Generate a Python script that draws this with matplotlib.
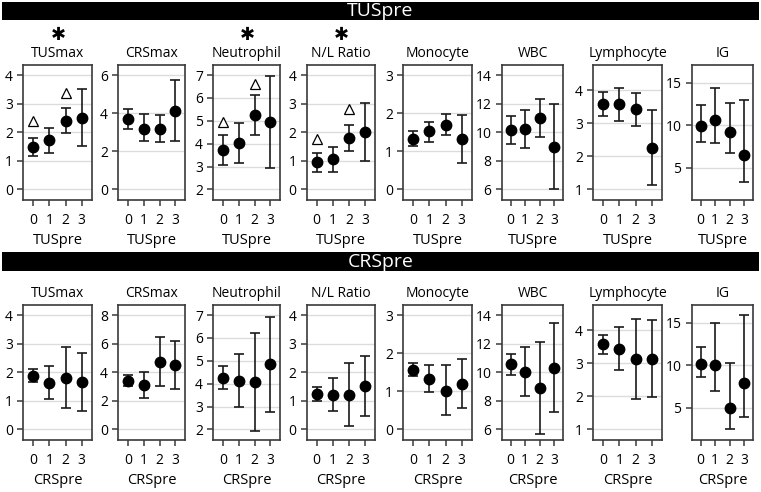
import matplotlib
matplotlib.use('Agg')
import matplotlib.pyplot as plt
from matplotlib.patches import Rectangle

plt.rcParams['font.family'] = ['Open Sans', 'DejaVu Sans']
plt.rcParams['mathtext.fontset'] = 'dejavusans'

# ---------------- data ----------------
variables = ['TUSmax', 'CRSmax', 'Neutrophil', 'N/L Ratio', 'Monocyte', 'WBC', 'Lymphocyte', 'IG']
groups = [0, 1, 2, 3]

# TUSpre rows (mean, lower CI, upper CI) for each variable
tuspre_mean = [[1.49, 1.72, 2.40, 2.51],
               [3.67, 3.19, 3.16, 4.12],
               [3.71, 4.03, 5.27, 4.95],
               [0.96, 1.05, 1.80, 2.01],
               [1.33, 1.52, 1.70, 1.31],
               [10.14, 10.26, 11.03, 8.97],
               [3.59, 3.59, 3.42, 2.26],
               [9.92, 10.63, 9.21, 6.50]]
tuspre_low = [[1.16, 1.29, 1.98, 1.51],
              [3.18, 2.53, 2.47, 2.54],
              [3.08, 3.15, 4.38, 2.95],
              [0.61, 0.61, 1.36, 0.99],
              [1.14, 1.25, 1.44, 0.70],
              [9.20, 8.92, 9.70, 6.00],
              [3.22, 3.08, 2.92, 1.14],
              [8.06, 7.96, 6.75, 3.34]]
tuspre_high = [[1.81, 2.15, 2.85, 3.50],
               [4.21, 3.95, 3.89, 5.74],
               [4.37, 4.91, 6.15, 6.97],
               [1.27, 1.49, 2.25, 3.03],
               [1.54, 1.78, 1.99, 1.94],
               [11.12, 11.57, 12.36, 11.99],
               [3.94, 4.07, 3.92, 3.39],
               [12.40, 14.45, 12.60, 12.98]]
# open triangles (post-hoc marks) in TUSpre row: variable index, group, value
tri_var = [0, 0, 2, 2, 3, 3]
tri_group = [0, 2, 0, 2, 0, 2]
tri_value = [2.39, 3.36, 4.95, 6.63, 1.77, 2.81]
# asterisk above the title
tuspre_sig = [True, False, True, True, False, False, False, False]

# CRSpre rows
crspre_mean = [[1.88, 1.63, 1.80, 1.66],
               [3.42, 3.09, 4.70, 4.54],
               [4.27, 4.12, 4.06, 4.84],
               [1.23, 1.22, 1.20, 1.53],
               [1.57, 1.32, 1.02, 1.19],
               [10.56, 10.05, 8.90, 10.33],
               [3.57, 3.43, 3.13, 3.14],
               [10.12, 10.08, 4.92, 7.91]]
crspre_low = [[1.65, 1.08, 0.76, 0.64],
              [3.02, 2.20, 3.02, 2.85],
              [3.77, 2.96, 1.93, 2.75],
              [0.98, 0.64, 0.11, 0.47],
              [1.41, 0.99, 0.39, 0.56],
              [9.81, 8.34, 5.67, 7.24],
              [3.27, 2.79, 1.93, 1.99],
              [8.62, 6.93, 2.44, 3.94]]
crspre_high = [[2.13, 2.21, 2.90, 2.69],
               [3.81, 4.05, 6.46, 6.22],
               [4.78, 5.29, 6.23, 6.93],
               [1.49, 1.79, 2.32, 2.58],
               [1.74, 1.68, 1.68, 1.84],
               [11.31, 11.75, 12.15, 13.44],
               [3.85, 4.08, 4.34, 4.32],
               [12.17, 15.00, 10.30, 15.94]]

# y tick labels per panel
tuspre_yticks = [[0, 1, 2, 3, 4], [0, 2, 4, 6], [2, 3, 4, 5, 6, 7], [0, 1, 2, 3, 4],
                 [0, 1, 2, 3], [6, 8, 10, 12, 14], [1, 2, 3, 4], [5, 10, 15]]
crspre_yticks = [[0, 1, 2, 3, 4], [0, 2, 4, 6, 8], [2, 3, 4, 5, 6, 7], [0, 1, 2, 3, 4],
                 [0, 1, 2, 3], [6, 8, 10, 12, 14], [1, 2, 3, 4], [5, 10, 15]]

# ---------------- layout ----------------
W, H = 761, 492
fig = plt.figure(figsize=(W / 100, H / 100), dpi=100)

panel_left = [23.3, 118.3, 213.3, 306.7, 403.3, 501.7, 593.3, 691.7]
panel_width = [68.4, 66.7, 66.7, 68.3, 68.4, 61.6, 68.4, 61.6]
row_top = [65.0, 305.0]
row_height = 134.5
banner_y = [(2, 20), (252, 271)]
row_names = ['TUSpre', 'CRSpre']

grid_col = '#dcdcdc'
spine_col = '#3a3a3a'


def ylim_for(ticks, var):
    if var == 'Lymphocyte':
        return (0.69, 4.76)
    if var == 'IG':
        return (1.23, 17.12)
    span = ticks[-1] - ticks[0]
    pad = span * 0.0885
    return (ticks[0] - pad, ticks[-1] + pad)


rows = [(tuspre_mean, tuspre_low, tuspre_high, tuspre_yticks),
        (crspre_mean, crspre_low, crspre_high, crspre_yticks)]

for r, (means, lows, highs, yticks) in enumerate(rows):
    # banner
    y0, y1 = banner_y[r]
    fig.patches.append(Rectangle((2 / W, 1 - y1 / H), (W - 4) / W, (y1 - y0) / H,
                                 transform=fig.transFigure, facecolor='black',
                                 edgecolor='none', zorder=0))
    fig.text(0.5, 1 - ((y0 + y1) / 2 + 0.5) / H, row_names[r], color='white',
             fontsize=14, ha='center', va='center')

    for i, var in enumerate(variables):
        ax = fig.add_axes([panel_left[i] / W, 1 - (row_top[r] + row_height) / H,
                           panel_width[i] / W, row_height / H])
        m = means[i]
        lo = lows[i]
        hi = highs[i]
        yerr = [[m[k] - lo[k] for k in range(4)], [hi[k] - m[k] for k in range(4)]]
        ax.errorbar(groups, m, yerr=yerr, fmt='o', color='black', ecolor='#1a1a1a',
                    markersize=7.5, elinewidth=1.2, capsize=3.3, capthick=1.2, zorder=3)
        if r == 0:
            for tv, tg, tval in zip(tri_var, tri_group, tri_value):
                if tv == i:
                    ax.plot([tg], [tval], marker='^', markersize=7.5,
                            markerfacecolor='white', markeredgecolor='black',
                            markeredgewidth=0.9, linestyle='none', zorder=3)
        ax.set_xlim(-0.62, 3.62)
        ax.set_ylim(*ylim_for(yticks[i], var))
        ax.set_xticks(groups)
        ax.set_yticks(yticks[i])
        ax.yaxis.grid(True, color=grid_col, linewidth=1.0)
        ax.set_axisbelow(True)
        for s in ax.spines.values():
            s.set_color(spine_col)
            s.set_linewidth(1.2)
        ax.tick_params(axis='both', length=4.5, width=1.1, color=spine_col,
                       labelsize=10, pad=3)
        ax.tick_params(axis='x', pad=5)
        ax.set_xlabel(row_names[r], fontsize=10.5, labelpad=4)
        ax.set_title(var, fontsize=10, pad=6)
        if r == 0 and tuspre_sig[i]:
            ax.annotate('$\u2731$', xy=(0.5, 1.0), xycoords='axes fraction',
                        xytext=(0, 21.5), textcoords='offset points',
                        ha='center', va='center', fontsize=13)

fig.savefig('out.png', dpi=100)
